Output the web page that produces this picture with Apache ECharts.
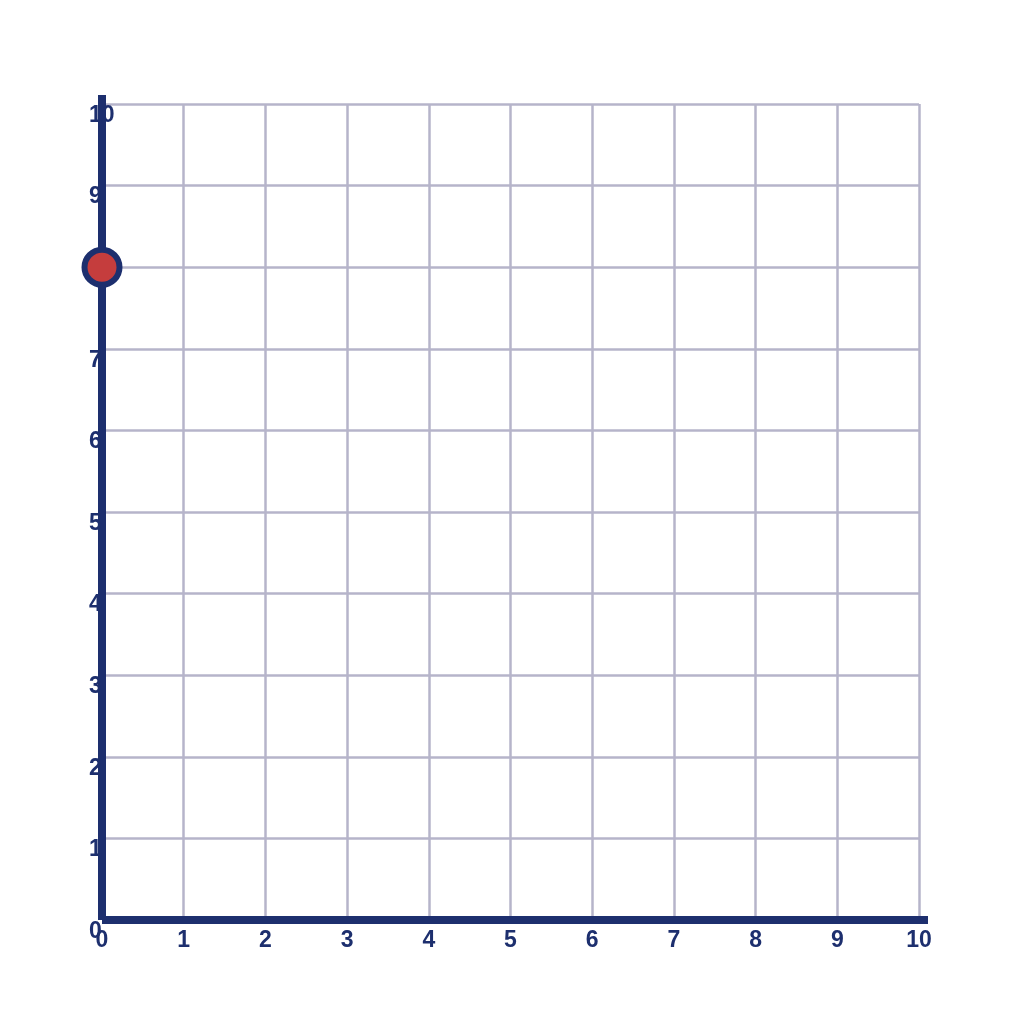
<!DOCTYPE html>
<html><head><meta charset="utf-8">
<script src="https://cdn.jsdelivr.net/npm/echarts@6/dist/echarts.min.js"></script>
<style>html,body{margin:0;padding:0;background:#fff}#c{width:1024px;height:1024px}</style>
</head><body><div id="c"></div>
<script>
const xTicks = [0,1,2,3,4,5,6,7,8,9,10];
const yTicks = [0,1,2,3,4,5,6,7,8,9,10];
const pointX = [0];
const pointY = [8];

const navy = '#1d2f6e';
const gridC = '#b6b4ca';
const labelFont = {color: navy, fontFamily: '"Liberation Sans"', fontWeight: 'bold', fontSize: 23};

const chart = echarts.init(document.getElementById('c'));
chart.setOption({
  animation: false,
  grid: [
    {left: 102, top: 104, width: 817, height: 816},
    {left: 102, top: 95, width: 826, height: 825}
  ],
  xAxis: [
    {type: 'value', gridIndex: 0, min: xTicks[0], max: xTicks[xTicks.length-1], interval: 1,
     axisLine: {show: false}, axisTick: {show: false},
     splitLine: {show: true, lineStyle: {color: gridC, width: 2.5}},
     axisLabel: Object.assign({margin: 9}, labelFont)},
    {type: 'value', gridIndex: 1, min: 0, max: 1, axisLabel: {show: false}, axisTick: {show: false},
     splitLine: {show: false}, axisLine: {show: true, onZero: false, lineStyle: {color: navy, width: 8, cap: 'butt'}}}
  ],
  yAxis: [
    {type: 'value', gridIndex: 0, min: yTicks[0], max: yTicks[yTicks.length-1], interval: 1,
     axisLine: {show: false}, axisTick: {show: false},
     splitLine: {show: true, lineStyle: {color: gridC, width: 2.5}},
     axisLabel: Object.assign({margin: 13, align: 'left', verticalAlign: 'top'}, labelFont)},
    {type: 'value', gridIndex: 1, min: 0, max: 1, axisLabel: {show: false}, axisTick: {show: false},
     splitLine: {show: false}, axisLine: {show: true, onZero: false, lineStyle: {color: navy, width: 8, cap: 'butt'}}}
  ],
  series: [{
    type: 'scatter', xAxisIndex: 0, yAxisIndex: 0, z: 10,
    data: pointX.map((x, i) => [x, pointY[i]]),
    symbolSize: 35,
    itemStyle: {color: '#c53d3d', borderColor: navy, borderWidth: 6, opacity: 1}
  }]
});
</script></body></html>
